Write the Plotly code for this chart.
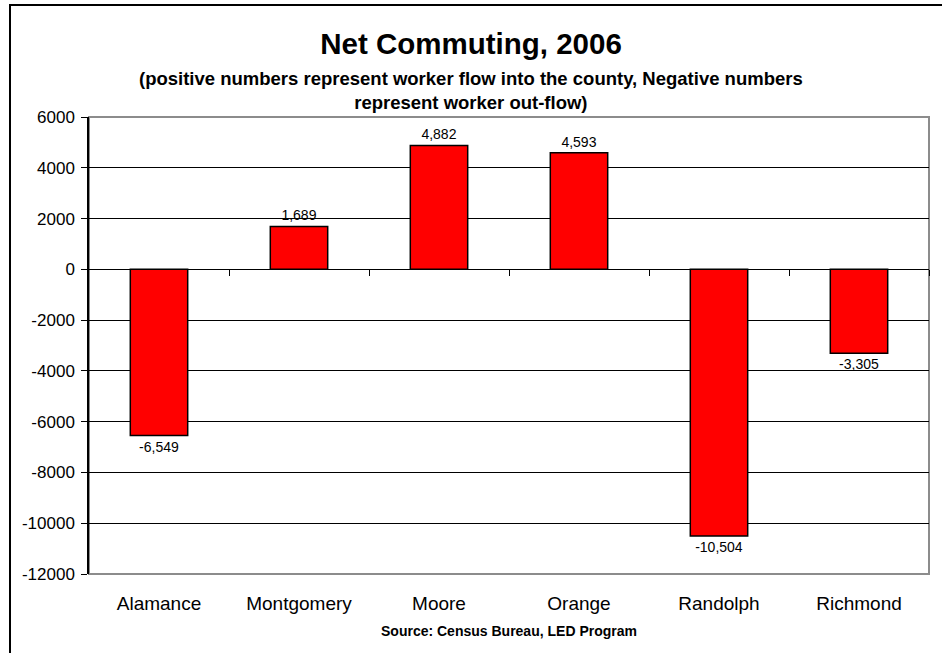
import plotly.graph_objects as go

# Net commuting by county, 2006
counties = ["Alamance", "Montgomery", "Moore", "Orange", "Randolph", "Richmond"]
net_commuting = [-6549, 1689, 4882, 4593, -10504, -3305]
y_ticks = [6000, 4000, 2000, 0, -2000, -4000, -6000, -8000, -10000, -12000]

FONT = "Arial, Liberation Sans, sans-serif"
W, H = 942, 653
ML, MR, MT, MB = 89, 13, 117, 79
plot_w = W - ML - MR
plot_h = H - MT - MB

positions = list(range(len(counties)))
boundaries = [p + 0.5 for p in positions]
value_labels = [f"{v:,}" for v in net_commuting]
y_tick_labels = [str(v) for v in y_ticks]

fig = go.Figure()

fig.add_trace(go.Bar(
    x=positions,
    y=net_commuting,
    width=0.41,
    marker=dict(color="#FF0000", line=dict(color="black", width=1.5)),
    text=value_labels,
    texttemplate="%{text}",
    textposition="outside",
    textfont=dict(family=FONT, size=14, color="black"),
    cliponaxis=False,
    showlegend=False,
    hoverinfo="skip",
))

# invisible trace so the boundary-tick axis at zero gets drawn
fig.add_trace(go.Scatter(
    x=positions, y=[0] * len(positions), xaxis="x2",
    mode="markers", marker=dict(opacity=0), showlegend=False, hoverinfo="skip",
))

fig.update_layout(
    width=W, height=H,
    margin=dict(l=ML, r=MR, t=MT, b=MB),
    paper_bgcolor="white",
    plot_bgcolor="white",
    font=dict(family=FONT, color="black"),
    title=dict(
        text="<b>Net Commuting, 2006</b>",
        x=0.5, xref="container", xanchor="center",
        y=1 - 44 / H, yref="container", yanchor="middle",
        font=dict(family=FONT, size=29.5, color="black"),
    ),
    xaxis=dict(
        range=[-0.5, len(counties) - 0.5],
        tickvals=positions,
        ticktext=counties,
        ticks="",
        showgrid=False,
        zeroline=False,
        showline=False,
        tickfont=dict(family=FONT, size=19, color="black"),
        ticklabelstandoff=16,
    ),
    xaxis2=dict(
        overlaying="x",
        anchor="free",
        position=12000 / 18000,
        range=[-0.5, len(counties) - 0.5],
        tickvals=boundaries,
        ticks="outside",
        ticklen=6,
        tickcolor="black",
        tickwidth=1,
        showticklabels=False,
        showgrid=False,
        zeroline=False,
        showline=False,
    ),
    yaxis=dict(
        range=[-12000, 6000],
        tickvals=y_ticks,
        ticktext=y_tick_labels,
        ticks="outside",
        ticklen=6,
        tickcolor="black",
        tickwidth=1,
        showgrid=True,
        gridcolor="black",
        gridwidth=1,
        zeroline=True,
        zerolinecolor="black",
        zerolinewidth=1,
        showline=True,
        linecolor="black",
        linewidth=1.5,
        tickfont=dict(family=FONT, size=17, color="black"),
        ticklabelstandoff=3,
    ),
    bargap=0.59,
)

# gray frame around the plotting area
fig.add_shape(type="rect", xref="paper", yref="paper", x0=0, y0=0, x1=1, y1=1,
              line=dict(color="#8C8C8C", width=2), layer="below")

# chart border (left and top edges)
bx = (10 - ML) / plot_w
by = (MT + plot_h - 5) / plot_h
fig.add_shape(type="path", xref="paper", yref="paper",
              path=f"M {bx} {-0.3} L {bx} {by} L {1.1} {by}",
              line=dict(color="black", width=2))

fig.add_annotation(
    text="<b>(positive numbers represent worker flow into the county, Negative numbers<br>"
         "represent worker out-flow)</b>",
    xref="paper", yref="paper",
    x=(W / 2 - ML) / plot_w, y=(MT + plot_h - 90) / plot_h,
    xanchor="center", yanchor="middle",
    showarrow=False, align="center",
    font=dict(family=FONT, size=18.5, color="black"),
)

fig.add_annotation(
    text="<b>Source: Census Bureau, LED Program</b>",
    xref="paper", yref="paper",
    x=0.5, y=(MT + plot_h - 631) / plot_h,
    xanchor="center", yanchor="middle",
    showarrow=False,
    font=dict(family=FONT, size=14, color="black"),
)

fig.write_html("out.html")
